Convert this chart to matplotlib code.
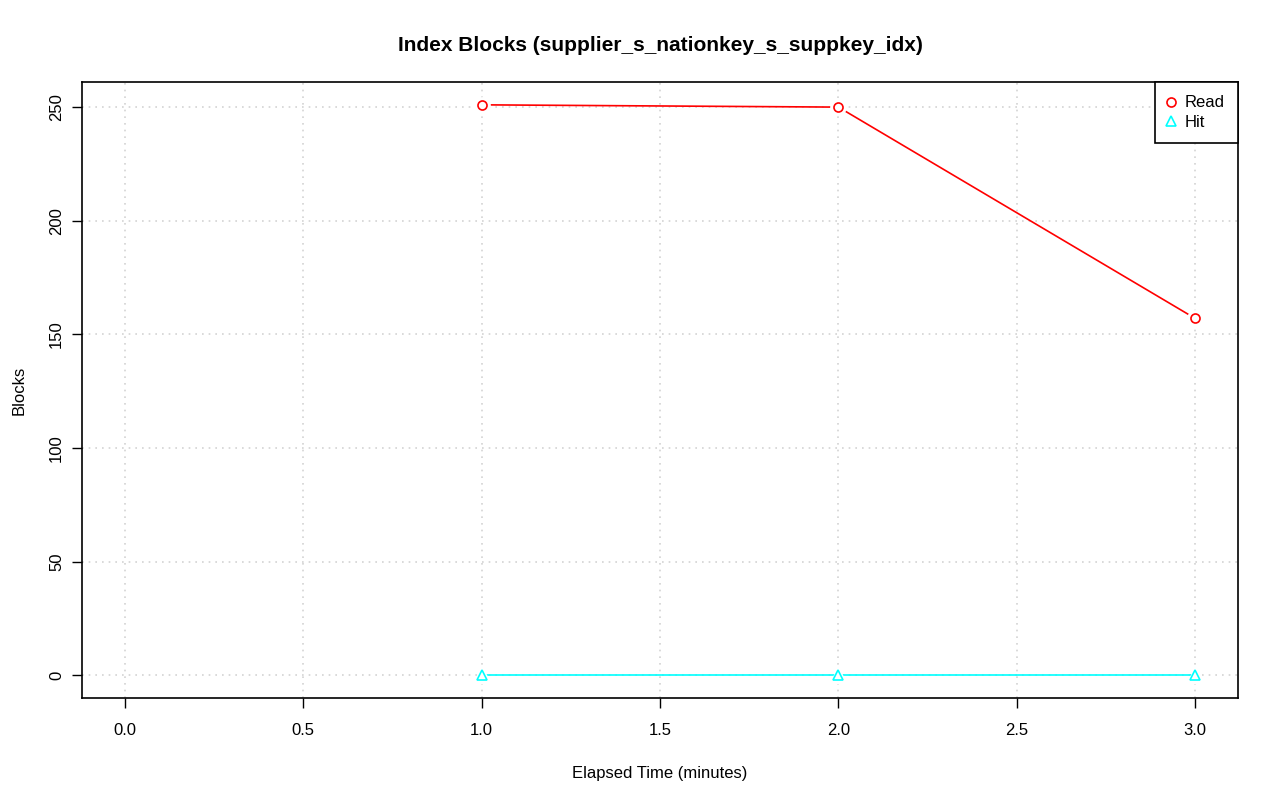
import numpy as np
import matplotlib.pyplot as plt

plt.rcParams['font.family'] = ['Liberation Sans', 'DejaVu Sans']

minutes = [1, 2, 3]
read_blocks = [251, 250, 157]
hit_blocks = [0, 0, 0]

fig = plt.figure(figsize=(12.8, 8.01), dpi=100)
ax = fig.add_axes([0.0641, 0.1286, 0.9031, 0.769])

xmax = max(minutes)
ymax = max(max(read_blocks), max(hit_blocks))
ymin = min(min(read_blocks), min(hit_blocks))
ax.set_xlim(0 - 0.04 * xmax, xmax * 1.04)
ax.set_ylim(ymin - 0.04 * (ymax - ymin), ymax + 0.04 * (ymax - ymin))

xticks = np.arange(0, 3.01, 0.5)
yticks = np.arange(0, 251, 50)
ax.set_xticks(xticks)
ax.set_xticklabels(["%.1f" % t for t in xticks])
ax.set_yticks(yticks)
ax.set_yticklabels(["%d" % t for t in yticks], rotation=90, va='center')

ax.grid(True, color='lightgray', linestyle=(0, (1, 3)), linewidth=1.2)
ax.set_axisbelow(True)

for ys, col, mk in [(read_blocks, 'red', 'o'), (hit_blocks, 'cyan', '^')]:
    ax.plot(minutes, ys, color=col, linewidth=1.2, zorder=2)
    # white halo gives the R type="b" gap around points
    ax.plot(minutes, ys, linestyle='none', marker=mk, markersize=11,
            markerfacecolor='white', markeredgecolor='white', zorder=3)
    ax.plot(minutes, ys, linestyle='none', marker=mk, markersize=6.5,
            markerfacecolor='none', markeredgecolor=col, markeredgewidth=1.2,
            zorder=4, label='Read' if col == 'red' else 'Hit')

for s in ax.spines.values():
    s.set_linewidth(1.2)
ax.tick_params(axis='both', labelsize=12, length=7, width=1.0)
ax.tick_params(axis='x', pad=11)
ax.tick_params(axis='y', pad=6)

ax.set_title("Index Blocks (supplier_s_nationkey_s_suppkey_idx)",
             fontsize=15, fontweight='bold', pad=22)
ax.set_xlabel("Elapsed Time (minutes)", fontsize=12, labelpad=20)
ax.set_ylabel("Blocks", fontsize=12, labelpad=16)

leg = ax.legend(loc='upper right', fontsize=12, borderaxespad=0,
                fancybox=False, framealpha=1, edgecolor='black',
                handletextpad=0.6, handlelength=0.4, borderpad=0.8,
                labelspacing=0.28)
leg.get_frame().set_linewidth(1.2)

fig.savefig("out.png", dpi=100)
